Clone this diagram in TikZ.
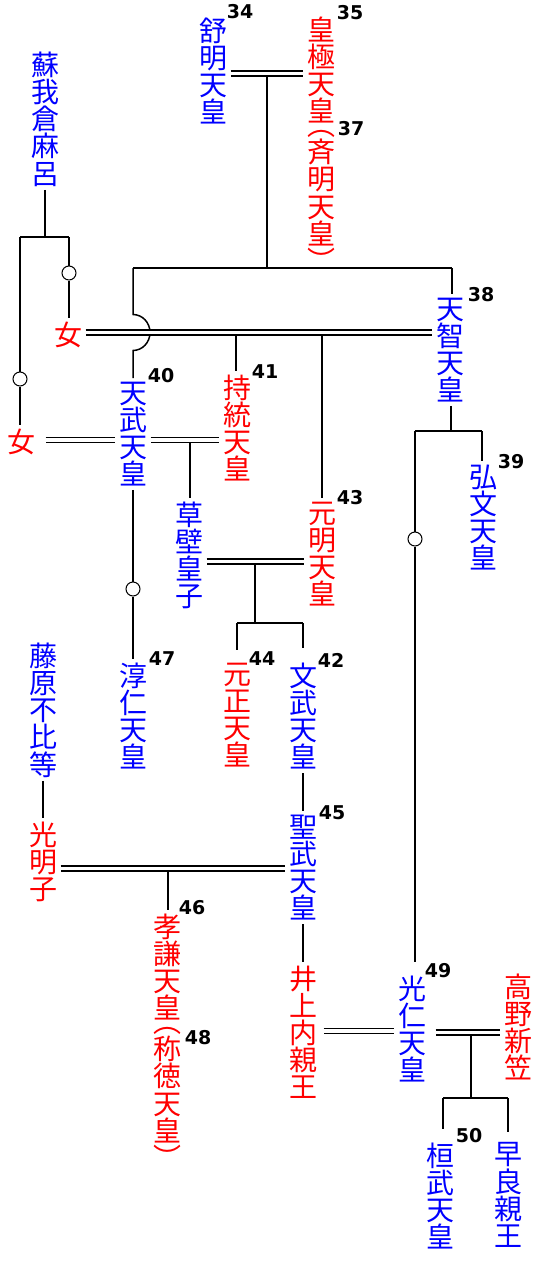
\documentclass[tikz,border=0pt]{standalone}
\usepackage{fontspec}
\newfontfamily\jp{Noto Sans CJK JP}
\newfontfamily\numfont{DejaVu Sans}
\definecolor{kblue}{RGB}{0,0,255}
\definecolor{kred}{RGB}{255,0,0}
\begin{document}
\begin{tikzpicture}[x=1pt,y=-1pt,
  nm/.style={font=\jp\fontsize{28}{27.2}\selectfont, align=center, inner sep=3.5pt, anchor=north},
  bl/.style={nm, text=kblue},
  rd/.style={nm, text=kred},
  num/.style={font=\numfont\bfseries\fontsize{19}{19}\selectfont, inner sep=0pt, anchor=center},
  ln/.style={line width=1.5pt},
  dbl/.style={double, double distance=3.4pt, line width=1.4pt},
  ring/.style={circle, draw, fill=white, inner sep=0pt, minimum size=14pt, line width=1pt}]
\fill[white] (0,0) rectangle (540,1276);
\useasboundingbox (0,0) rectangle (540,1276);

% names
\node[bl] (soga) at (45,48) {蘇\\我\\倉\\麻\\呂};
\node[bl] (jomei) at (213,14) {舒\\明\\天\\皇};
\node[rd] (kogyoku) at (321,13) {皇\\極\\天\\皇\\[-13.6pt]︵\\斉\\明\\天\\皇\\︶};
\node[rd,anchor=center] (onna1) at (68,335) {女};
\node[bl] (tenji) at (450,294) {天\\智\\天\\皇};
\node[rd,anchor=center] (onna2) at (21,442) {女};
\node[bl] (tenmu) at (133,378) {天\\武\\天\\皇};
\node[rd] (jito) at (237,371) {持\\統\\天\\皇};
\node[bl] (kusakabe) at (189,498) {草\\壁\\皇\\子};
\node[rd] (genmei) at (322,498) {元\\明\\天\\皇};
\node[bl] (kobun) at (483,461) {弘\\文\\天\\皇};
\node[bl] (junnin) at (133,659) {淳\\仁\\天\\皇};
\node[rd] (gensho) at (237,659) {元\\正\\天\\皇};
\node[bl] (monmu) at (303,659) {文\\武\\天\\皇};
\node[bl] (fuhito) at (43,639) {藤\\原\\不\\比\\等};
\node[rd] (komyo) at (43,818) {光\\明\\子};
\node[bl] (shomu) at (303,811) {聖\\武\\天\\皇};
\node[rd] (koken) at (167,910) {孝\\謙\\天\\皇\\[-13.6pt]︵\\称\\徳\\天\\皇\\︶};
\node[rd] (inoue) at (303,962) {井\\上\\内\\親\\王};
\node[bl] (konin) at (412,972) {光\\仁\\天\\皇};
\node[rd] (takano) at (518,970) {高\\野\\新\\笠};
\node[bl] (kanmu) at (440,1139) {桓\\武\\天\\皇};
\node[bl] (sawara) at (508,1139) {早\\良\\親\\王};

% numbers
\node[num] (n34) at (240,12) {34};
\node[num] (n35) at (350,13) {35};
\node[num] (n37) at (351,129) {37};
\node[num] (n38) at (481,295) {38};
\node[num] (n40) at (161,376) {40};
\node[num] (n41) at (265,372) {41};
\node[num] (n43) at (350,498) {43};
\node[num] (n39) at (511,462) {39};
\node[num] (n47) at (162,659) {47};
\node[num] (n44) at (262,659) {44};
\node[num] (n42) at (331,660) {42};
\node[num] (n45) at (332,813) {45};
\node[num] (n46) at (192,908) {46};
\node[num] (n48) at (198,1038) {48};
\node[num] (n49) at (438,971) {49};
\node[num] (n50) at (469,1136) {50};

% junction coordinates
\coordinate (j1) at (45,237);
\coordinate (j1L) at (20,237);
\coordinate (j1R) at (69,237);
\coordinate (m1) at (267,73.5);
\coordinate (j2) at (267,268);
\coordinate (j2L) at (133,268);
\coordinate (j2R) at (452,268);
\coordinate (h1) at (133,314.5);
\coordinate (m2a) at (236,332.5);
\coordinate (m2b) at (322,332.5);
\coordinate (m3) at (190,440);
\coordinate (m4) at (255,561.5);
\coordinate (j4) at (255,623);
\coordinate (j4L) at (237,623);
\coordinate (j4R) at (303,623);
\coordinate (j5) at (451,431);
\coordinate (j5L) at (415,431);
\coordinate (j5R) at (482,431);
\coordinate (m5) at (168,868.5);
\coordinate (m6) at (360,1031);
\coordinate (m7) at (471,1032.5);
\coordinate (j7) at (471,1098);
\coordinate (j7L) at (443,1098);
\coordinate (j7R) at (508,1098);

% rings
\node[ring] (c1) at (69,273) {};
\node[ring] (c2) at (20,379) {};
\node[ring] (c3) at (133,589) {};
\node[ring] (c4) at (415,539) {};

% single lines
\begin{scope}[ln]
\draw (soga.south) -- (j1);
\draw (j1L) -- (j1R);
\draw (j1R) -- (c1);
\draw (c1) -- (c1 |- onna1.north);
\draw (j1L) -- (c2);
\draw (c2) -- (c2 |- onna2.north);
\draw (m1) -- (j2);
\draw (j2L) -- (j2R);
\draw (j2R) -- (j2R |- tenji.north);
\draw (j2L) -- (h1) arc[start angle=90, end angle=-90, x radius=17pt, y radius=18pt] -- (h1 |- tenmu.north);
\draw (m2a) -- (m2a |- jito.north);
\draw (m2b) -- (m2b |- genmei.north);
\draw (m3) -- (m3 |- kusakabe.north);
\draw (tenmu.south) -- (c3);
\draw (c3) -- (c3 |- junnin.north);
\draw (m4) -- (j4);
\draw (j4L) -- (j4R);
\draw[shorten >=9pt] (j4L) -- (j4L |- gensho.north);
\draw[shorten >=11pt] (j4R) -- (j4R |- monmu.north);
\draw (tenji.south -| j5) -- (j5);
\draw (j5L) -- (j5R);
\draw (j5R) -- (j5R |- kobun.north);
\draw (j5L) -- (c4);
\draw[shorten >=10pt] (c4) -- (c4 |- konin.north);
\draw (monmu.south) -- (shomu.north);
\draw (fuhito.south) -- (komyo.north);
\draw (m5) -- (m5 |- koken.north);
\draw (shomu.south) -- (inoue.north);
\draw (m7) -- (j7);
\draw (j7L) -- (j7R);
\draw[shorten >=10pt] (j7L) -- (j7L |- kanmu.north);
\draw[shorten >=7pt] (j7R) -- (j7R |- sawara.north);
\end{scope}

% marriage double lines
\draw[dbl] (jomei.east |- m1) -- (kogyoku.west |- m1);
\draw[dbl] (onna1.east |- m2a) -- (tenji.west |- m2a);
\draw[dbl, shorten <=7pt] (onna2.east |- m3) -- (tenmu.west |- m3);
\draw[dbl] (tenmu.east |- m3) -- (jito.west |- m3);
\draw[dbl] (kusakabe.east |- m4) -- (genmei.west |- m4);
\draw[dbl] (komyo.east |- m5) -- (shomu.west |- m5);
\draw[dbl, shorten <=3pt] (inoue.east |- m6) -- (konin.west |- m6);
\draw[dbl, shorten <=6pt] (konin.east |- m7) -- (takano.west |- m7);
\end{tikzpicture}
\end{document}
